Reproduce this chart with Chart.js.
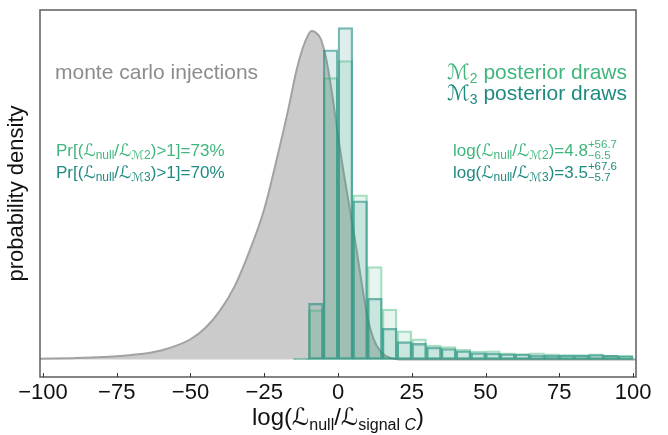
<!DOCTYPE html>
<html lang="en">
<head>
<meta charset="UTF-8">
<title>log(Lnull/Lsignal C)</title>
<script src="https://cdn.jsdelivr.net/npm/chart.js"></script>
<style>
  body { margin: 0; background: #fff; }
</style>
</head>
<body>
<canvas id="chart" width="668" height="435"></canvas>
<script>
// histogram bins (left edges, width 5)
const binStart = [-15, -10, -5, 0, 5, 10, 15, 20, 25, 30, 35, 40, 45, 50, 55, 60, 65, 70, 75, 80, 85, 90, 95];
const binWidth = 5;
const m2Density = [0.003, 0.142, 0.807, 0.855, 0.471, 0.266, 0.144, 0.082, 0.059, 0.041, 0.037, 0.029, 0.024, 0.025, 0.019, 0.016, 0.019, 0.016, 0.014, 0.014, 0.016, 0.013, 0.013];
const m3Density = [0.003, 0.161, 0.886, 0.950, 0.454, 0.175, 0.089, 0.051, 0.046, 0.035, 0.031, 0.025, 0.019, 0.018, 0.016, 0.016, 0.013, 0.012, 0.013, 0.013, 0.014, 0.012, 0.010];

// monte carlo injections curve
const mcX = [-101, -90, -80, -70, -60, -50, -45, -40, -35, -30, -25, -20, -17, -14, -12, -10, -9, -8, -6, -4, -2, 0, 2, 4, 6, 8, 10, 12, 14, 16, 18, 20, 25, 101];
const mcY = [0.002, 0.004, 0.007, 0.013, 0.026, 0.058, 0.09, 0.14, 0.21, 0.31, 0.43, 0.60, 0.71, 0.83, 0.89, 0.93, 0.94, 0.938, 0.92, 0.86, 0.76, 0.64, 0.53, 0.43, 0.33, 0.22, 0.12, 0.06, 0.028, 0.011, 0.004, 0.001, 0, 0];

const xTicks = [-100, -75, -50, -25, 0, 25, 50, 75, 100];

// annotation numbers
const models = ['2', '3'];
const prAbove = [73, 70];
const logMed = ['4.8', '3.5'];
const logUp = ['56.7', '67.6'];
const logLo = ['6.5', '5.7'];

const GREEN = '#3fb67b';
const TEAL = '#1f8b80';
const modelColors = [GREEN, TEAL];
const FAMILY = "'Liberation Sans', Arial, 'DejaVu Sans', sans-serif";

function fnt(size, italic) {
  return (italic ? 'italic ' : '') + size + 'px ' + FAMILY;
}

function partWidth(ctx, p) {
  if (p.sup) {
    ctx.font = fnt(p.sup.s);
    const a = ctx.measureText(p.sup.t).width;
    ctx.font = fnt(p.sub.s);
    const b = ctx.measureText(p.sub.t).width;
    return Math.max(a, b);
  }
  ctx.font = fnt(p.s, p.it);
  return ctx.measureText(p.t).width;
}

// draw a line of text with sub/superscripts, y is the baseline
function drawRich(ctx, x, y, parts, align, color) {
  let total = 0;
  parts.forEach(p => { p.w = partWidth(ctx, p); total += p.w; });
  let cx = x;
  if (align === 'right') cx = x - total;
  if (align === 'center') cx = x - total / 2;
  ctx.save();
  ctx.fillStyle = color;
  ctx.textAlign = 'left';
  ctx.textBaseline = 'alphabetic';
  parts.forEach(p => {
    if (p.sup) {
      ctx.font = fnt(p.sup.s);
      ctx.fillText(p.sup.t, cx, y + p.sup.dy);
      ctx.font = fnt(p.sub.s);
      ctx.fillText(p.sub.t, cx, y + p.sub.dy);
    } else {
      ctx.font = fnt(p.s, p.it);
      ctx.fillText(p.t, cx, y + (p.dy || 0));
    }
    cx += p.w;
  });
  ctx.restore();
}

const extras = {
  id: 'extras',
  afterDraw(chart) {
    const ctx = chart.ctx;
    const area = chart.chartArea;
    const xs = chart.scales.x;

    // frame
    ctx.save();
    ctx.strokeStyle = '#666';
    ctx.lineWidth = 1.6;
    ctx.strokeRect(area.left, area.top, area.right - area.left, area.bottom - area.top);
    // inward ticks
    ctx.strokeStyle = '#333';
    ctx.lineWidth = 1;
    xTicks.forEach(v => {
      const px = Math.round(xs.getPixelForValue(v)) + 0.5;
      ctx.beginPath();
      ctx.moveTo(px, area.bottom);
      ctx.lineTo(px, area.bottom - 4);
      ctx.stroke();
    });
    ctx.restore();

    // labels
    drawRich(ctx, 55, 79, [{ t: 'monte carlo injections', s: 21 }], 'left', '#8c8c8c');

    models.forEach((m, i) => {
      const c = modelColors[i];
      drawRich(ctx, 627, 79 + i * 21, [
        { t: 'ℳ', s: 21 }, { t: m, s: 14, dy: 4 }, { t: ' posterior draws', s: 21 }
      ], 'right', c);

      drawRich(ctx, 56, 156 + i * 22, [
        { t: 'Pr[(ℒ', s: 17 }, { t: 'null', s: 12, dy: 3 }, { t: '/ℒ', s: 17 },
        { t: 'ℳ' + m, s: 12, dy: 3 }, { t: ')>1]=' + prAbove[i] + '%', s: 17 }
      ], 'left', c);

      drawRich(ctx, 617, 156 + i * 22, [
        { t: 'log(ℒ', s: 17 }, { t: 'null', s: 12, dy: 3 }, { t: '/ℒ', s: 17 },
        { t: 'ℳ' + m, s: 12, dy: 3 }, { t: ')=' + logMed[i], s: 17 },
        { sup: { t: '+' + logUp[i], s: 11.5, dy: -8 }, sub: { t: '\u2212' + logLo[i], s: 11.5, dy: 3 } }
      ], 'right', c);
    });

    // x axis title
    drawRich(ctx, (area.left + area.right) / 2, 425, [
      { t: 'log(ℒ', s: 24 }, { t: 'null', s: 16, dy: 5 }, { t: '/ℒ', s: 24 },
      { t: 'signal ', s: 16, dy: 5 }, { t: 'C', s: 16, dy: 5, it: true }, { t: ')', s: 24 }
    ], 'center', '#111');
  }
};

const toBars = vals => vals.map((v, i) => ({ x: binStart[i] + binWidth / 2, y: v }));

new Chart(document.getElementById('chart'), {
  type: 'bar',
  data: {
    datasets: [
      {
        type: 'line',
        label: 'monte carlo injections',
        data: mcX.map((x, i) => ({ x: x, y: mcY[i] })),
        borderColor: '#a2a2a2',
        borderWidth: 2,
        backgroundColor: 'rgb(204, 203, 203)',
        fill: 'origin',
        pointRadius: 0,
        cubicInterpolationMode: 'monotone',
        order: 3
      },
      {
        label: 'M2 posterior draws',
        data: toBars(m2Density),
        backgroundColor: 'rgba(63, 182, 123, 0.13)',
        borderColor: 'rgba(63, 182, 123, 0.45)',
        borderWidth: 1.6,
        borderSkipped: false,
        grouped: false,
        barPercentage: 1,
        categoryPercentage: 1,
        order: 2
      },
      {
        label: 'M3 posterior draws',
        data: toBars(m3Density),
        backgroundColor: 'rgba(31, 139, 128, 0.15)',
        borderColor: 'rgba(31, 139, 128, 0.6)',
        borderWidth: 1.6,
        borderSkipped: false,
        grouped: false,
        barPercentage: 1,
        categoryPercentage: 1,
        order: 1
      }
    ]
  },
  options: {
    responsive: false,
    animation: false,
    layout: { padding: { left: 0, right: 32, top: 10, bottom: 0 } },
    plugins: { legend: { display: false }, tooltip: { enabled: false } },
    scales: {
      x: {
        type: 'linear',
        min: -101,
        max: 101,
        offset: false,
        grid: { display: false, drawTicks: false },
        border: { display: false },
        afterBuildTicks: s => { s.ticks = xTicks.map(v => ({ value: v })); },
        afterFit: s => { s.height = 58; },
        ticks: {
          color: '#111',
          font: { size: 22, family: FAMILY },
          padding: 3,
          maxRotation: 0,
          callback: v => v < 0 ? '\u2212' + Math.abs(v) : String(v)
        }
      },
      y: {
        min: -0.05,
        max: 1.0,
        grid: { display: false },
        border: { display: false },
        ticks: { display: false },
        afterFit: s => { s.width = 40; },
        title: {
          display: true,
          text: 'probability density',
          color: '#111',
          font: { size: 22, family: FAMILY },
          padding: { top: 4, bottom: 0 }
        }
      }
    }
  },
  plugins: [extras]
});
</script>
</body>
</html>
